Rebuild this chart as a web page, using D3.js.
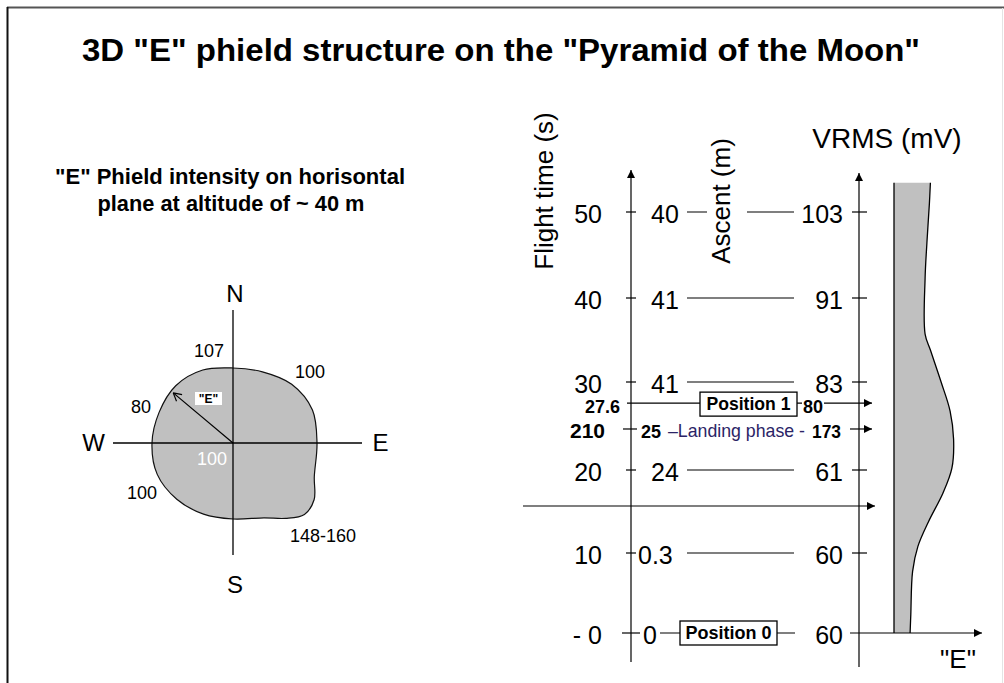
<!DOCTYPE html>
<html>
<head>
<meta charset="utf-8">
<script src="https://cdn.jsdelivr.net/npm/d3@7"></script>
<style>
  html, body { margin: 0; padding: 0; background: #fff; }
  svg { display: block; font-family: "Liberation Sans", Arial, sans-serif; }
</style>
</head>
<body>
<div id="chart"></div>
<script>
// compass outline: angle (deg, clockwise from N) and relative radius
const outlineAngles = [0, 22.5, 45, 67.5, 90, 112.5, 125, 135, 145, 157.5, 180, 202.5, 225, 247.5, 270, 292.5, 315, 337.5];
const outlineRadii = [75, 77, 83, 86, 84, 88, 99, 101, 92, 81, 76, 77, 79.5, 82, 81, 80, 81, 79];
const compassDirs = ["N", "E", "S", "W"];
const compassValues = ["107", "100", "80", "100", "100", "148-160"];
const eArrowAngle = 310;
const eArrowLength = 78;

// flight rows
const flightTimes = [0, 10, 20, 30, 40, 50];
const ascents = ["0", "0.3", "24", "41", "41", "40"];
const vrmsValues = [60, 60, 61, 83, 91, 103];
const pos1Time = 27.6, pos1Vrms = 80;
const landingTime = 210, landingAscent = 25, landingVrms = 173, landingSlot = 24.66;
const dividerSlot = 15.66;

// "E" profile vs flight time
const profileTimes = [0, 2.3, 7.7, 10.8, 13.8, 17.2, 20.2, 23.5, 26.7, 30.0, 33.8, 35.7, 42.3, 46.4, 51.0, 53.4];
const profileE = [16.1, 16.8, 18.6, 23.9, 34.6, 48.9, 57.9, 59.6, 56.1, 47.1, 36.4, 31.1, 31.1, 32.9, 35.4, 36.4];

const width = 1004, height = 683;
const svg = d3.select("#chart").append("svg")
  .attr("width", width)
  .attr("height", height);

svg.append("defs").append("marker")
  .attr("id", "head")
  .attr("viewBox", "0 0 10 10")
  .attr("refX", 10).attr("refY", 5)
  .attr("markerWidth", 9).attr("markerHeight", 8)
  .attr("markerUnits", "userSpaceOnUse")
  .attr("orient", "auto")
  .append("path").attr("d", "M0,0L10,5L0,10z").attr("fill", "#000");

// frame
svg.append("line").attr("x1", 7).attr("y1", 7.5).attr("x2", width).attr("y2", 7.5)
  .attr("stroke", "#555").attr("stroke-width", 2);
svg.append("line").attr("x1", 7.5).attr("y1", 7).attr("x2", 7.5).attr("y2", height)
  .attr("stroke", "#111").attr("stroke-width", 2);
svg.append("line").attr("x1", 1002.5).attr("y1", 8).attr("x2", 1002.5).attr("y2", height)
  .attr("stroke", "#e4e4e4").attr("stroke-width", 1);

function label(g, x, y, s, size, opts) {
  opts = opts || {};
  const t = g.append("text")
    .attr("x", x).attr("y", y)
    .attr("font-size", size)
    .attr("text-anchor", opts.anchor || "middle")
    .attr("font-weight", opts.bold ? "bold" : null)
    .attr("fill", opts.fill || "#000")
    .text(s);
  if (opts.len) t.attr("textLength", opts.len).attr("lengthAdjust", "spacingAndGlyphs");
  return t;
}

// titles
label(svg, 501, 61, "3D \"E\" phield structure on the \"Pyramid of the Moon\"", 32, { bold: true, len: 838 });
label(svg, 230, 184, "\"E\" Phield intensity on horisontal", 22, { bold: true, len: 350 });
label(svg, 231, 211, "plane at altitude of ~ 40 m", 22, { bold: true, len: 267 });

// ---------- compass ----------
const cx = 233, cy = 443;
const comp = svg.append("g").attr("transform", `translate(${cx},${cy})`);
const rScale = d3.scaleLinear().domain([0, 100]).range([0, 100]);

const outline = d3.lineRadial()
  .angle(d => d[0] * Math.PI / 180)
  .radius(d => rScale(d[1]))
  .curve(d3.curveCatmullRomClosed);

comp.append("path")
  .attr("d", outline(outlineAngles.map((a, i) => [a, outlineRadii[i]])))
  .attr("fill", "#c0c0c0")
  .attr("stroke", "#111")
  .attr("stroke-width", 1.2);

comp.append("line").attr("x1", 0).attr("y1", -133).attr("x2", 0).attr("y2", 112).attr("stroke", "#000").attr("stroke-width", 1.3);
comp.append("line").attr("x1", -120).attr("y1", 0).attr("x2", 129).attr("y2", 0).attr("stroke", "#000").attr("stroke-width", 1.3);

// "E" vector
const ang = eArrowAngle * Math.PI / 180;
const tipX = Math.sin(ang) * rScale(eArrowLength), tipY = -Math.cos(ang) * rScale(eArrowLength);
comp.append("line").attr("x1", 0).attr("y1", 0).attr("x2", tipX).attr("y2", tipY)
  .attr("stroke", "#000").attr("stroke-width", 1.2);
const back = Math.atan2(-tipY, -tipX);
[-0.5, 0.5].forEach(o => {
  comp.append("line")
    .attr("x1", tipX).attr("y1", tipY)
    .attr("x2", tipX + 9 * Math.cos(back + o)).attr("y2", tipY + 9 * Math.sin(back + o))
    .attr("stroke", "#000").attr("stroke-width", 1.2);
});
comp.append("rect").attr("x", -38).attr("y", -51).attr("width", 27).attr("height", 13).attr("fill", "#fff");
label(comp, -24.5, -40, "\"E\"", 12, { bold: true });

const dirPos = { N: [2, -141], E: [147.5, 8], S: [2, 150], W: [-139.5, 8] };
compassDirs.forEach(d => label(comp, dirPos[d][0], dirPos[d][1], d, 24));

const valPos = [[-24, -86], [77, -65], [-92, -30], [-21, 22], [-91, 56], [90, 99]];
compassValues.forEach((v, i) => {
  label(comp, valPos[i][0], valPos[i][1], v, 18, { fill: i === 3 ? "#fff" : "#000" });
});

// ---------- flight profile ----------
const yT = d3.scaleLinear().domain(flightTimes).range([633, 553, 470, 382, 298, 212]);
const xE = d3.scaleLinear().domain([0, 60]).range([894, 954]);
const axL = 631, axR = 859;
const g = svg.append("g");

const prof = profileTimes.map((t, i) => [t, profileE[i]]);
g.append("path")
  .attr("d", d3.area().y(d => yT(d[0])).x0(xE(0)).x1(d => xE(d[1])).curve(d3.curveCatmullRom)(prof))
  .attr("fill", "#c0c0c0");
g.append("path")
  .attr("d", d3.line().y(d => yT(d[0])).x(d => xE(d[1])).curve(d3.curveCatmullRom)(prof))
  .attr("fill", "none").attr("stroke", "#000").attr("stroke-width", 1.3);
g.append("line")
  .attr("x1", xE(0)).attr("x2", xE(0))
  .attr("y1", yT(d3.max(profileTimes))).attr("y2", yT(0))
  .attr("stroke", "#000").attr("stroke-width", 1.3);

function hline(x1, x2, y, arrow) {
  const l = g.append("line").attr("x1", x1).attr("x2", x2).attr("y1", y).attr("y2", y)
    .attr("stroke", "#000").attr("stroke-width", 1.2);
  if (arrow) l.attr("marker-end", "url(#head)");
  return l;
}

// axes
g.append("line").attr("x1", axL).attr("x2", axL).attr("y1", 662).attr("y2", 170)
  .attr("stroke", "#000").attr("stroke-width", 1.2).attr("marker-end", "url(#head)");
g.append("line").attr("x1", axR).attr("x2", axR).attr("y1", 667).attr("y2", 173)
  .attr("stroke", "#000").attr("stroke-width", 1.2).attr("marker-end", "url(#head)");

// regular rows
flightTimes.forEach((t, i) => {
  const y = yT(t);
  label(g, 602, y + 11, t === 0 ? "- 0" : t, 25, { anchor: "end" });
  if (t === 0) {
    hline(622, 640, y);
    hline(660, 795, y);
    hline(850, 982, y, true);
  } else {
    hline(axL - 5, axL + 5, y);
    hline(687, 794, y);
    hline(852, 867, y);
  }
  if (t < dividerSlot) label(g, t === 0 ? 643 : 638, y + 11, ascents[i], 25, { anchor: "start" });
  else label(g, 665, y + 11, ascents[i], 25);
  label(g, 843, y + 11, vrmsValues[i], 25, { anchor: "end" });
});

// position 0 box
const y0 = yT(0);
g.append("rect").attr("x", 680).attr("y", y0 - 12).attr("width", 97).attr("height", 24)
  .attr("fill", "#fff").attr("stroke", "#000").attr("stroke-width", 1.3);
label(g, 728.5, y0 + 6, "Position 0", 18, { bold: true, len: 86 });

// position 1 row
const y1 = yT(pos1Time);
hline(627, 872, y1, true);
label(g, 620, y1 + 10, pos1Time, 18, { anchor: "end", bold: true });
g.append("rect").attr("x", 700).attr("y", y1 - 11).attr("width", 97).attr("height", 24)
  .attr("fill", "#fff").attr("stroke", "#000").attr("stroke-width", 1.3);
label(g, 748.5, y1 + 7, "Position 1", 18, { bold: true, len: 84 });
g.append("rect").attr("x", 802).attr("y", y1 - 3).attr("width", 22).attr("height", 14).attr("fill", "#fff");
label(g, 813, y1 + 10, pos1Vrms, 18, { bold: true });

// landing row
const yl = yT(landingSlot);
hline(623, 637, yl);
label(g, 605, yl + 9, landingTime, 21, { anchor: "end", bold: true });
label(g, 641, yl + 9, landingAscent, 18, { anchor: "start", bold: true });
label(g, 668, yl + 8, "\u2013Landing phase -", 19, { anchor: "start", len: 137, fill: "#2b2466" });
label(g, 841, yl + 9, landingVrms, 19, { anchor: "end", bold: true, len: 29 });
hline(850, 872, yl, true);

// divider
hline(523, 875, yT(dividerSlot), true);

// axis titles
label(g, 553, 191, "Flight time (s)", 26).attr("transform", "rotate(-90,553,191)");
g.append("rect").attr("x", 707).attr("y", yT(50) - 5).attr("width", 40).attr("height", 10).attr("fill", "#fff");
label(g, 730, 201, "Ascent (m)", 26).attr("transform", "rotate(-90,730,201)");
label(g, 887, 148, "VRMS (mV)", 28);
label(g, 958, 668, "\"E\"", 26);
</script>
</body>
</html>
